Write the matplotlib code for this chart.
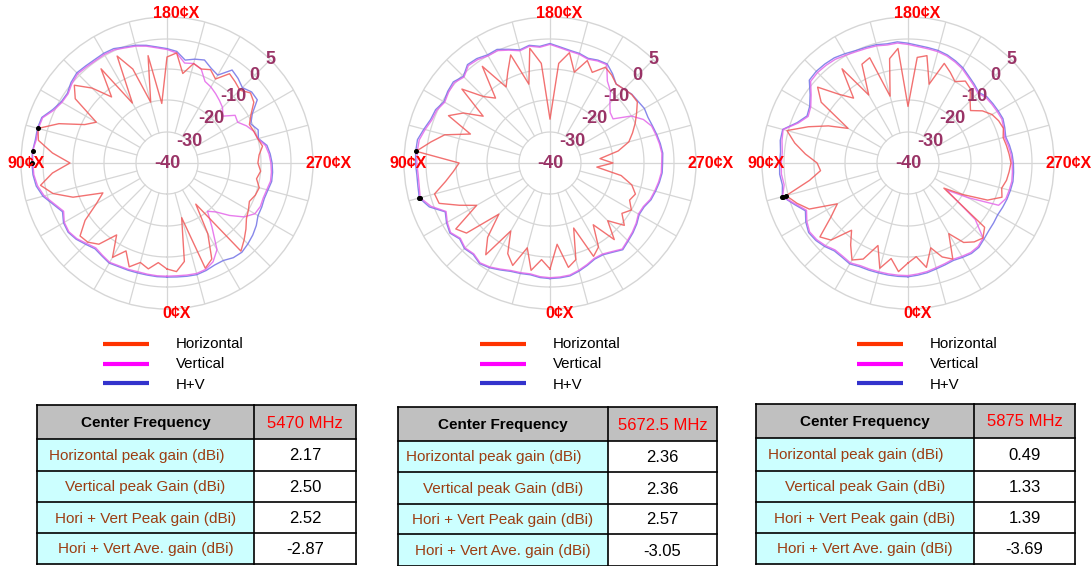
import numpy as np
import matplotlib
matplotlib.use("Agg")
import matplotlib.pyplot as plt

plt.rcParams['font.family'] = ['Liberation Sans', 'DejaVu Sans']

W, H = 1091, 566
DPI = 100

# Measurement angles (deg), 0 at bottom, increasing clockwise
ANGLES = np.arange(0, 360, 5)

# ---- 5470 MHz ----
H1 = [-6, -8, -5.5, -7, -4.5, -9, -5, -12, -6, -4, -3.5, -8, -14, -17.5, -8, -2, 1, -3,
      -9, -3, 1.5, 2.17, -3, -11, -14, -4, -1, -6, -12.5, -3, -18, -2, -8, -20, -5, -21,
      -6, -4.5, -11, -7, -8, -7, -9, -5, -6, -7, -5, -6, -9, -11, -10.5, -10, -9, -10.5,
      -11, -10, -11, -9.5, -10, -11, -10, -9, -7, -5, -3, -24, -14, -6, -4, -22, -8, -5]
V1 = [-3.6, -3.6, -3.7, -3.8, -3.6, -3.5, -3.1, -3.8, -4.4, -3.4, -2.1, -1.4, -1.8, -3.3,
      -1.4, 0.7, 1.7, 2.2, 2.3, 2.50, 2.0, 2.1, 1.9, 0.2, -0.9, -1.1, 0.0, 0.5, 0.3, 0.2,
      0.3, 0.2, -0.5, -1.0, -1.8, -2.8, -3.5, -4.5, -7.5, -7, -8, -11.3, -12, -13, -14,
      -15, -16.8, -13.5, -14, -12, -10.5, -10, -8, -7.2, -6.7, -6.4, -6.3, -6.9, -7.2, -7,
      -7.5, -10, -14, -18, -20, -15, -8, -5, -3.6, -3.2, -3.4, -3.6]
HV1 = [-3.3, -3.3, -3.4, -3.4, -3.3, -3.2, -2.8, -3.5, -4.0, -3.0, -1.8, -1.1, -1.5, -2.9,
       -1.0, 1.0, 2.0, 2.4, 2.52, 2.5, 2.2, 2.3, 2.1, 0.5, -0.6, -0.8, 0.3, 0.8, 0.6, 0.5,
       0.6, 0.5, -0.2, -0.7, -1.5, -2.5, -3.2, -4.0, -6.5, -5.5, -4.8, -6.5, -7.5, -3.5,
       -4.5, -5.8, -4.5, -4.6, -8.5, -10.5, -9.0, -9.8, -7.5, -6.8, -6.3, -6.0, -5.9, -6.5,
       -6.8, -6.5, -6.3, -5.0, -4.0, -3.2, -2.5, -2.8, -3.8, -3.8, -3.2, -2.8, -3.0, -3.2]

# ---- 5672.5 MHz ----
H2 = [-6, -9, -5, -12, -5, -8, -15, -4, -9, -17, -5, -3, -13, -8, -2, -1.5, -6, -9, -11,
      2.36, -1.0, -5, -13, -4, -8, -14, -3, -10, -13, -2, -12, -8, -3, -14, -2.5, -8, -26,
      -8, -4, -10, -5, -8, -4.5, -5.5, -7, -6.5, -5.8, -5.8, -8, -10, -12, -14, -18, -24,
      -20, -25, -17, -13, -11, -12, -10, -12, -9, -14, -8, -16, -9, -7, -18, -8, -6, -14]
V2 = [-3.1, -3.3, -3.8, -3.5, -3.2, -2.3, -1.3, -0.7, -1.8, -1.3, -2.3, -0.9, -1.8, -3.1,
      0.6, 2.36, 2.0, 1.9, 2.1, 2.1, 2.0, 1.2, 0.4, 0.2, -0.8, -0.1, 0.2, -0.8, 0.7, 0.5,
      -0.1, 0.0, -1.3, -2.6, -1.8, -2.6, -1.8, -2.8, -3.5, -3.8, -4.5, -3.8, -3.5, -8, -10,
      -13, -15, -15.5, -10, -7, -5.3, -4.8, -4.3, -3.9, -4.1, -4.1, -4.6, -5.2, -5.8, -7,
      -7.3, -6.3, -5.5, -4.8, -3.9, -5.3, -6.3, -6.3, -5.3, -4.3, -3.4, -3.2]
HV2 = [-2.8, -3.0, -3.5, -3.2, -2.9, -2.0, -1.0, -0.4, -1.5, -1.0, -2.0, -0.6, -1.5, -2.8,
       1.0, 2.57, 2.3, 2.2, 2.4, 2.45, 2.4, 1.5, 0.7, 0.5, -0.5, 0.2, 0.5, -0.5, 1.0, 0.8,
       0.2, 0.3, -1.0, -2.3, -1.5, -2.3, -1.5, -2.5, -3.2, -3.5, -4.2, -3.5, -3.2, -5, -7,
       -6.5, -5.7, -5.5, -5, -5.3, -5, -4.5, -4, -3.6, -3.8, -3.8, -4.3, -4.9, -5.5, -6.7,
       -7, -6, -5.2, -4.5, -3.6, -5, -6, -6, -5, -4, -3.1, -2.9]

# ---- 5875 MHz ----
H3 = [-8, -5, -9, -5, -12, -6, -4, -8, -12, -5, -3, -10, -14, -5, -2, 0.49, -8, -12, -11,
      -7, -3, 0.3, -6, -12, -18, -6, -2, -9, -13, -3, -15, -5, -4, -18, -6, -3, -22, -6,
      -5, -14, -6, -8, -10, -8, -9, -12, -14, -11, -9, -8, -7.5, -8.5, -8, -7.5, -7, -7.5,
      -8, -9, -8, -12, -20, -26, -8, -6, -7, -9, -14, -6, -8, -12, -6, -10]
V3 = [-3.8, -3.8, -3.8, -3.8, -3.7, -3.6, -2.9, -3.4, -3.5, -2.4, -1.6, -1.3, -2.4, -4.0,
      -1.4, 1.33, 0.4, 0.7, 0.6, 0.5, 0.9, 1.2, -2.4, -4.6, -3.9, -1.9, 0.7, 0.9, 0.8, 0.6,
      0.1, -0.4, -0.7, -0.9, -1.4, -1.2, -1.8, -2.4, -2.7, -2.9, -3.4, -4.2, -5.1, -6.4,
      -7.4, -8.4, -7.4, -7.2, -7.0, -6.8, -7.4, -8.0, -7.4, -6.9, -6.6, -6.4, -6.2, -6.4,
      -6.6, -8, -18, -25, -12, -5.9, -5.0, -4.9, -5.4, -5.9, -5.6, -5.2, -4.6, -4.2]
HV3 = [-3.4, -3.4, -3.4, -3.4, -3.3, -3.2, -2.5, -3.0, -3.1, -2.0, -1.2, -0.9, -2.0, -3.6,
       -1.0, 1.39, 0.8, 1.1, 1.0, 0.9, 1.3, 1.3, -2.0, -4.2, -3.5, -1.5, 1.1, 1.3, 1.2, 1.0,
       0.5, 0.0, -0.3, -0.5, -1.0, -0.8, -1.4, -2.0, -2.3, -2.5, -3.0, -3.8, -4.7, -6, -7,
       -8, -7, -6.8, -6.6, -6.4, -7, -7.6, -7, -6.5, -6.2, -6.0, -5.8, -6.0, -6.2, -6.5,
       -6.8, -6.5, -6.2, -5.5, -4.6, -4.5, -5, -5.5, -5.2, -4.8, -4.2, -3.8]

FREQS = ['5470 MHz', '5672.5 MHz', '5875 MHz']
ROW_LABELS = ['Horizontal peak gain (dBi)', 'Vertical peak Gain (dBi)',
              'Hori + Vert Peak gain (dBi)', 'Hori + Vert Ave. gain (dBi)']
GAINS = [['2.17', '2.50', '2.52', '-2.87'],
         ['2.36', '2.36', '2.57', '-3.05'],
         ['0.49', '1.33', '1.39', '-3.69']]
SERIES_NAMES = ['Horizontal', 'Vertical', 'H+V']
RING_LABELS = ['-40', '-30', '-20', '-10', '0', '5']
ANGLE_LABELS = ['180\u00a2X', '0\u00a2X', '90\u00a2X', '270\u00a2X']

# radial scale of the chart: ring values and their relative radius
RING_DB = [-40, -30, -20, -10, 0, 5]
RING_POS = [0, 31, 63, 94, 124, 146]


def r_fwd(r):
    return np.interp(r, RING_DB, RING_POS)


def r_inv(p):
    return np.interp(p, RING_POS, RING_DB)


# layout in pixels
CENTERS = [(167, 163), (550, 163), (908, 163)]
RADIUS = 146
LEGEND_X = [(103, 176), (480, 553), (857, 930)]
TABLES = [
    dict(xs=(37, 254, 356), ys=(405, 439, 471, 502, 533, 564)),
    dict(xs=(398, 608, 717), ys=(407, 441, 472, 504, 534, 566)),
    dict(xs=(756, 974, 1075), ys=(404, 438, 471, 502, 533, 564)),
]
ROW_SHIFT = [-9, 0, 0, 0]

COL_H = '#f05858'
COL_V = '#e466ea'
COL_HV = '#7272e6'
GRID = '#d6d6d6'
LEG_COLS = ['#ff3300', '#ff00ff', '#3333cc']

fig = plt.figure(figsize=(W / DPI, H / DPI), dpi=DPI)

series = [(H1, V1, HV1), (H2, V2, HV2), (H3, V3, HV3)]

for (cx, cy), (h, v, hv) in zip(CENTERS, series):
    ax = fig.add_axes([(cx - RADIUS) / W, (H - cy - RADIUS) / H,
                       2 * RADIUS / W, 2 * RADIUS / H], projection='polar')
    ax.set_theta_zero_location('S')
    ax.set_theta_direction(-1)
    ax.set_rscale('function', functions=(r_fwd, r_inv))
    ax.set_rlim(-40, 5)
    ax.grid(False)
    ax.set_xticks([])
    ax.set_yticks([])
    ax.patch.set_alpha(0)
    ax.spines['polar'].set_color(GRID)
    ax.spines['polar'].set_linewidth(1.0)

    full = np.linspace(0, 2 * np.pi, 361)
    for ring in RING_DB[1:-1]:
        ax.plot(full, np.full_like(full, ring), color=GRID, lw=0.9, zorder=1)
    for a in range(0, 360, 15):
        r0 = -40 if a % 90 == 0 else -30
        ax.plot([np.deg2rad(a)] * 2, [r0, 5], color=GRID, lw=0.9, zorder=1)

    th = np.deg2rad(np.r_[ANGLES, 360])
    for vals, col in ((hv, COL_HV), (v, COL_V), (h, COL_H)):
        vals = np.asarray(vals, dtype=float)
        ax.plot(th, np.r_[vals, vals[0]], color=col, lw=1.0, alpha=0.85, zorder=3)
    # peak markers
    for vals in (h, v, hv):
        k = int(np.argmax(vals))
        ax.plot(np.deg2rad(ANGLES[k]), vals[k], 'o', color='black', ms=2.6, zorder=4)

    for lbl, val in zip(RING_LABELS, RING_DB):
        ax.text(np.deg2rad(225) if val > -40 else 0, val, lbl, color='#993366',
                fontsize=13, fontweight='bold', ha='center', va='center',
                zorder=5, clip_on=False)

# overlay for labels, legends and tables (pixel coordinates)
ov = fig.add_axes([0, 0, 1, 1])
ov.set_xlim(0, W)
ov.set_ylim(H, 0)
ov.axis('off')
ov.patch.set_alpha(0)

for (cx, cy) in CENTERS:
    kw = dict(color='red', fontsize=11.5, fontweight='bold', va='center', ha='left')
    ov.text(cx - 14, cy - 150, ANGLE_LABELS[0], **kw)
    ov.text(cx - 5, cy + 150, ANGLE_LABELS[1], **kw)
    ov.text(cx - 160, cy, ANGLE_LABELS[2], **kw)
    ov.text(cx + 138, cy, ANGLE_LABELS[3], **kw)

for (lx, tx) in LEGEND_X:
    for i, (name, col) in enumerate(zip(SERIES_NAMES, LEG_COLS)):
        y = 344 + i * 19.5
        ov.plot([lx, lx + 46], [y, y], color=col, lw=3.0, solid_capstyle='butt')
        ov.text(tx, y + i * 0.8, name, fontsize=10.8, va='center', ha='left', color='black')

for t, freq, vals in zip(TABLES, FREQS, GAINS):
    x0, xm, x1 = t['xs']
    ys = t['ys']
    ov.add_patch(plt.Rectangle((x0, ys[0]), x1 - x0, ys[1] - ys[0], facecolor='#c0c0c0',
                               edgecolor='none'))
    ov.add_patch(plt.Rectangle((x0, ys[1]), xm - x0, ys[-1] - ys[1], facecolor='#ccffff',
                               edgecolor='none'))
    ov.add_patch(plt.Rectangle((xm, ys[1]), x1 - xm, ys[-1] - ys[1], facecolor='white',
                               edgecolor='none'))
    for y in ys:
        ov.plot([x0, x1], [y, y], color='black', lw=1.2, solid_capstyle='projecting')
    for x in (x0, xm, x1):
        ov.plot([x, x], [ys[0], ys[-1]], color='black', lw=1.2, solid_capstyle='projecting')
    ov.text((x0 + xm) / 2, (ys[0] + ys[1]) / 2 + 1, 'Center Frequency', fontsize=11,
            fontweight='bold', ha='center', va='center', color='black')
    ov.text((xm + x1) / 2, (ys[0] + ys[1]) / 2 + 1, freq, fontsize=12,
            ha='center', va='center', color='#ff0000')
    for k, (lbl, val) in enumerate(zip(ROW_LABELS, vals)):
        ym = (ys[k + 1] + ys[k + 2]) / 2 + 1
        ov.text((x0 + xm) / 2 + ROW_SHIFT[k], ym, lbl, fontsize=11, ha='center',
                va='center', color='#9c3d12')
        ov.text((xm + x1) / 2, ym, val, fontsize=12, ha='center', va='center',
                color='black')

fig.savefig('out.png', dpi=DPI)
